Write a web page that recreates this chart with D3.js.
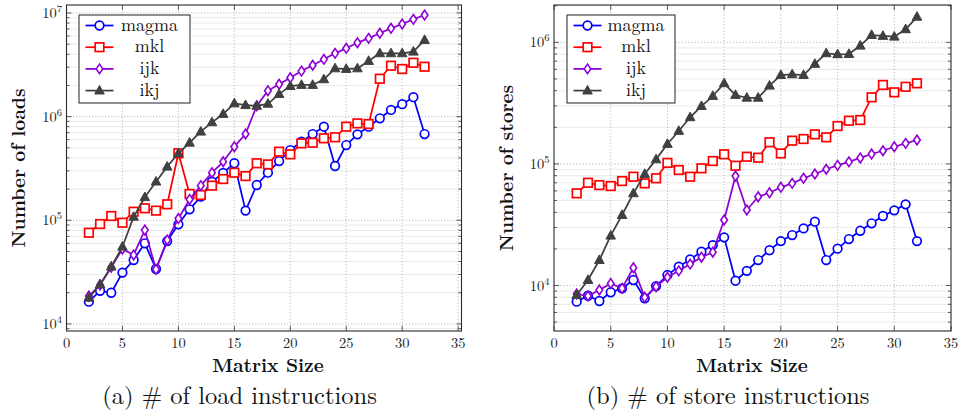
<!DOCTYPE html>
<html>
<head>
<meta charset="utf-8">
<script src="https://cdn.jsdelivr.net/npm/d3@7"></script>
<style>
  html, body { margin: 0; padding: 0; background: #fff; }
  svg { display: block; }
  text { font-family: 'Latin Modern Roman', 'Liberation Serif', serif; }
</style>
</head>
<body>
<svg id="chart" width="959" height="414"></svg>
<script>
// ---------------- data ----------------
const matrixSizes = [2,3,4,5,6,7,8,9,10,11,12,13,14,15,16,17,18,19,20,21,22,23,24,25,26,27,28,29,30,31,32];

const loadsMagma = [16400,20900,20000,31300,41400,60000,33900,63100,91400,127600,169000,236000,287000,355000,124000,219000,288000,373000,476000,573000,679000,800000,334000,532000,675000,800000,964000,1160000,1320000,1540000,679000];
const loadsMkl   = [75900,92000,110000,94800,121000,130500,124000,142700,443000,179500,175400,216000,250000,288000,267000,355000,346000,459000,433000,552000,560000,618000,632000,800000,861000,849000,2320000,3100000,2880000,3310000,3030000];
const loadsIjk   = [18600,23800,35200,52900,46300,80500,33600,64600,104000,159000,216000,288000,367000,513000,680000,1270000,1780000,2050000,2370000,2750000,3130000,3570000,4080000,4560000,5170000,5690000,6370000,7110000,7820000,8680000,9550000];
const loadsIkj   = [17900,24100,35700,55600,108000,167000,236000,329000,443000,560000,716000,881000,1060000,1340000,1290000,1270000,1330000,1650000,1970000,2020000,2020000,2290000,2920000,2880000,2920000,3440000,4080000,4080000,4080000,4230000,5480000];

const storesMagma = [7360,8240,7460,8800,9480,11100,7850,9900,12200,14300,16400,18960,21500,24900,10950,13200,16200,19500,23200,26000,29500,33500,16200,20100,24100,28200,32500,37300,41500,46500,23200];
const storesMkl   = [57300,70000,67000,65800,72300,78500,69200,76200,102000,89100,78500,92000,105700,120000,96600,114600,112500,150700,122000,155400,160300,175000,165500,205000,226700,229600,353000,446000,388000,431000,460000];
const storesIjk   = [8510,8200,9190,10400,9480,14000,8000,9780,11700,13200,15000,17100,18800,34600,79500,41800,53700,57900,64200,69200,76200,82600,90400,97300,104000,112000,120600,128400,138500,147600,157300];
const storesIkj   = [8360,11100,16200,25700,38000,57300,82600,109000,145900,186700,241800,299000,361700,460000,368600,350000,350000,440000,538000,545000,538000,664000,812000,797000,801000,938000,1148000,1128000,1112000,1280000,1620000];

const seriesNames = ["magma", "mkl", "ijk", "ikj"];
const xTickValues = [0,5,10,15,20,25,30,35];
const yTicksLoads = [1e4,1e5,1e6,1e7];
const yTicksStores = [1e4,1e5,1e6];
const xLabel = "Matrix Size";
const yLabelLoads = "Number of loads";
const yLabelStores = "Number of stores";
const captionLoads = "(a) # of load instructions";
const captionStores = "(b) # of store instructions";

// ---------------- styles ----------------
const styles = {
  magma: { color: "#0000ff", marker: "circle" },
  mkl:   { color: "#ff0000", marker: "square" },
  ijk:   { color: "#9000d6", marker: "diamond" },
  ikj:   { color: "#404040", marker: "triangle" }
};

const svg = d3.select("#chart");
const FONT = "'Latin Modern Roman', 'Liberation Serif', serif";
const LW = 1.75;

function drawMarker(g, type, x, y, color) {
  if (type === "circle") {
    g.append("circle").attr("cx", x).attr("cy", y).attr("r", 4.3)
      .attr("fill", "#fff").attr("stroke", color).attr("stroke-width", 1.7);
  } else if (type === "square") {
    g.append("rect").attr("x", x - 4.3).attr("y", y - 4.3).attr("width", 8.6).attr("height", 8.6)
      .attr("fill", "#fff").attr("stroke", color).attr("stroke-width", 1.7);
  } else if (type === "diamond") {
    g.append("path").attr("d", `M${x},${y-4.8}L${x+3.3},${y}L${x},${y+4.8}L${x-3.3},${y}Z`)
      .attr("fill", "#fff").attr("stroke", color).attr("stroke-width", 1.6);
  } else {
    g.append("path").attr("d", `M${x},${y-5.2}L${x+4.8},${y+3.4}L${x-4.8},${y+3.4}Z`)
      .attr("fill", color).attr("stroke", color).attr("stroke-width", 1);
  }
}

function txt(g, s, x, y, size, opts = {}) {
  const t = g.append("text").attr("x", x).attr("y", y)
    .attr("text-anchor", opts.anchor || "middle")
    .style("font-family", FONT).style("font-size", size + "px")
    .style("font-weight", opts.bold ? "bold" : "normal")
    .attr("fill", opts.fill || "#111");
  if (opts.transform) t.attr("transform", opts.transform);
  if (s !== null) t.text(s);
  return t;
}

function panel(cfg) {
  const { left, right, top, bottom } = cfg.box;
  const x = d3.scaleLinear().domain(cfg.xDomain).range([left, right]);
  const y = d3.scaleLog().domain(cfg.yDomain).range([bottom, top]);
  const g = svg.append("g");

  // minor horizontal grid
  const minorVals = [];
  const lo = Math.floor(Math.log10(cfg.yDomain[0])), hi = Math.ceil(Math.log10(cfg.yDomain[1]));
  for (let e = lo; e <= hi; e++) {
    for (let m = 2; m <= 9; m++) {
      const v = m * Math.pow(10, e);
      if (v > cfg.yDomain[0] && v < cfg.yDomain[1]) minorVals.push(v);
    }
  }
  g.append("g").selectAll("line").data(minorVals).join("line")
    .attr("x1", left).attr("x2", right)
    .attr("y1", d => y(d)).attr("y2", d => y(d))
    .attr("stroke", "#e4e4e4").attr("stroke-width", 0.8);

  // major grid (dotted)
  const xGrid = xTickValues.filter(v => x(v) > left + 1 && x(v) < right - 1);
  g.append("g").selectAll("line").data(xGrid).join("line")
    .attr("x1", d => x(d)).attr("x2", d => x(d)).attr("y1", top).attr("y2", bottom)
    .attr("stroke", "#9a9a9a").attr("stroke-width", 0.8).attr("stroke-dasharray", "1,2.2");
  g.append("g").selectAll("line").data(cfg.yTicks).join("line")
    .attr("x1", left).attr("x2", right).attr("y1", d => y(d)).attr("y2", d => y(d))
    .attr("stroke", "#9a9a9a").attr("stroke-width", 0.8).attr("stroke-dasharray", "1,2.2");

  // tick marks (inward) on all sides
  const tk = g.append("g").attr("stroke", "#333").attr("stroke-width", 0.8);
  xTickValues.filter(v => x(v) >= left - 0.5 && x(v) <= right + 0.5).forEach(v => {
    tk.append("line").attr("x1", x(v)).attr("x2", x(v)).attr("y1", bottom).attr("y2", bottom - 5);
    tk.append("line").attr("x1", x(v)).attr("x2", x(v)).attr("y1", top).attr("y2", top + 5);
  });
  cfg.yTicks.forEach(v => {
    tk.append("line").attr("x1", left).attr("x2", left + 5).attr("y1", y(v)).attr("y2", y(v));
    tk.append("line").attr("x1", right).attr("x2", right - 5).attr("y1", y(v)).attr("y2", y(v));
  });
  minorVals.forEach(v => {
    tk.append("line").attr("x1", left).attr("x2", left + 3).attr("y1", y(v)).attr("y2", y(v));
    tk.append("line").attr("x1", right).attr("x2", right - 3).attr("y1", y(v)).attr("y2", y(v));
  });

  // series
  const clipId = "clip" + cfg.id;
  svg.append("clipPath").attr("id", clipId).append("rect")
    .attr("x", left - 6).attr("y", top).attr("width", right - left + 12).attr("height", bottom - top);
  const sg = g.append("g").attr("clip-path", `url(#${clipId})`);
  const line = d3.line().x(d => x(d[0])).y(d => y(d[1]));
  seriesNames.forEach((name, i) => {
    const st = styles[name];
    const pts = matrixSizes.map((m, j) => [m, cfg.values[i][j]]);
    sg.append("path").attr("d", line(pts)).attr("fill", "none")
      .attr("stroke", st.color).attr("stroke-width", LW).attr("stroke-linejoin", "round");
    const mg = sg.append("g");
    pts.forEach(p => drawMarker(mg, st.marker, x(p[0]), y(p[1]), st.color));
  });

  // frame
  g.append("rect").attr("x", left).attr("y", top).attr("width", right - left).attr("height", bottom - top)
    .attr("fill", "none").attr("stroke", "#2a2a2a").attr("stroke-width", 1.1);

  // x tick labels
  xTickValues.forEach(v => txt(g, String(v), x(v), bottom + 17, 14.5, { fill: "#222" }));

  // y tick labels 10^k
  cfg.yTicks.forEach(v => {
    const t = txt(g, null, left - 4.5, y(v) + 5, 14.5, { anchor: "end", fill: "#222" });
    t.append("tspan").text("10");
    t.append("tspan").attr("dy", -6).style("font-size", "10.5px").text(Math.round(Math.log10(v)));
  });

  // axis labels
  txt(g, xLabel, cfg.xLabelX, 372, 19, { bold: true });
  txt(g, cfg.yLabel, 0, 0, 19, { bold: true,
    transform: `translate(${left - 41.5},${(top + bottom) / 2}) rotate(-90)` });

  // caption
  txt(g, cfg.caption, cfg.captionX, 404, 24.5);

  // legend
  const L = cfg.legend;
  const lg = g.append("g");
  lg.append("rect").attr("x", L.x).attr("y", L.y).attr("width", L.w).attr("height", L.h)
    .attr("fill", "#fff").attr("stroke", "#222").attr("stroke-width", 1);
  seriesNames.forEach((name, i) => {
    const st = styles[name];
    const cy = L.y + 10.5 + i * 21.7;
    lg.append("line").attr("x1", L.x + 6.5).attr("x2", L.x + 34.5).attr("y1", cy).attr("y2", cy)
      .attr("stroke", st.color).attr("stroke-width", LW);
    drawMarker(lg, st.marker, L.x + 20.5, cy, st.color);
    txt(lg, name, L.x + L.textOffset, cy + 5, 18);
  });
}

panel({
  id: "a",
  box: { left: 66.5, right: 461.5, top: 5, bottom: 331 },
  xDomain: [0, 35.3],
  yDomain: [Math.pow(10, 3.932), Math.pow(10, 7.077)],
  yTicks: yTicksLoads,
  values: [loadsMagma, loadsMkl, loadsIjk, loadsIkj],
  xLabelX: 268, yLabel: yLabelLoads,
  caption: captionLoads, captionX: 239.5,
  legend: { x: 79, y: 15, w: 111, h: 88, textOffset: 70.5 }
});

panel({
  id: "b",
  box: { left: 554, right: 951, top: 5, bottom: 331 },
  xDomain: [0, 35],
  yDomain: [Math.pow(10, 3.626), Math.pow(10, 6.307)],
  yTicks: yTicksStores,
  values: [storesMagma, storesMkl, storesIjk, storesIkj],
  xLabelX: 752, yLabel: yLabelStores,
  caption: captionStores, captionX: 728,
  legend: { x: 567, y: 15, w: 108, h: 88, textOffset: 69 }
});
</script>
</body>
</html>
